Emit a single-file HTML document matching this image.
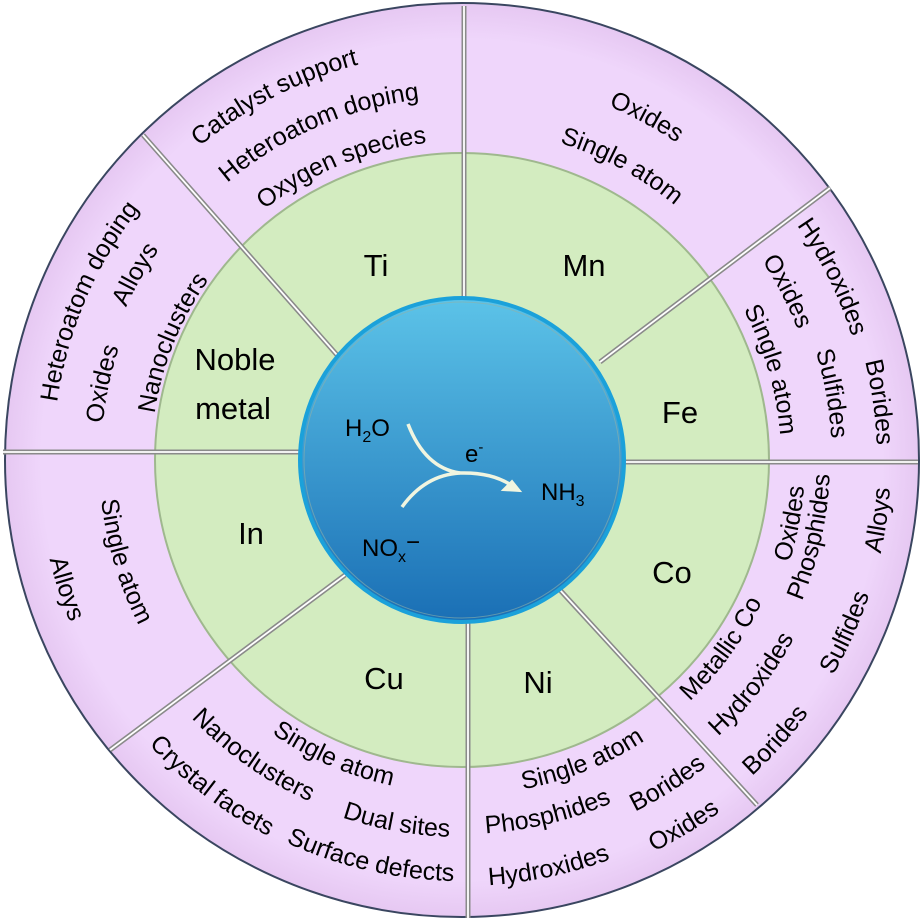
<!DOCTYPE html>
<html><head><meta charset="utf-8">
<style>
html,body{margin:0;padding:0;background:#fff;width:920px;height:921px;overflow:hidden}
svg{display:block}
.l{font-family:"Liberation Sans",sans-serif;font-size:25px;fill:#000}
.m{font-family:"Liberation Sans",sans-serif;font-size:31px;fill:#000;text-anchor:middle}
.c{font-family:"Liberation Sans",sans-serif;font-size:24px;fill:#000}
</style></head><body>
<svg width="920" height="921" viewBox="0 0 920 921" xmlns="http://www.w3.org/2000/svg">
<defs>
<linearGradient id="bg" x1="0" y1="0" x2="0" y2="1">
<stop offset="0" stop-color="#5cc3e8"/><stop offset="1" stop-color="#1a6fb5"/>
</linearGradient>
<radialGradient id="pg" cx="0.5" cy="0.5" r="0.5">
<stop offset="0.92" stop-color="#efd6fb"/><stop offset="1" stop-color="#e6c8f2"/>
</radialGradient>
<path id="p1"/><path id="p2"/><path id="p3"/><path id="p4"/><path id="p5"/><path id="p6"/><path id="p7"/><path id="p8"/><path id="p9"/><path id="p10"/>
<path id="p11"/><path id="p12"/><path id="p13"/><path id="p14"/><path id="p15"/><path id="p16"/><path id="p17"/><path id="p18"/><path id="p19"/><path id="p20"/>
<path id="p21"/><path id="p22"/><path id="p23"/><path id="p24"/><path id="p25"/><path id="p26"/><path id="p27"/><path id="p28"/><path id="p29"/><path id="p30"/>
<path id="p31"/>
</defs>
<circle cx="462" cy="460" r="457" fill="url(#pg)" stroke="#3a4660" stroke-width="2"/>
<circle cx="462" cy="460" r="307" fill="#d3ecc0" stroke="#9fb88e" stroke-width="2"/>
<g stroke="#8a8a8a" stroke-width="5" stroke-linecap="butt">
<line x1="464" y1="6" x2="464" y2="300"/>
<line x1="3" y1="452" x2="300" y2="452"/>
<line x1="622" y1="462" x2="918" y2="462"/>
<line x1="468" y1="620" x2="468" y2="918"/>
<line x1="143" y1="135" x2="337" y2="355"/>
<line x1="830" y1="188" x2="600" y2="362"/>
<line x1="560" y1="590" x2="757" y2="805"/>
<line x1="110" y1="750" x2="345" y2="575"/>
</g>
<g stroke="#ffffff" stroke-width="1.8">
<line x1="464" y1="6" x2="464" y2="300"/>
<line x1="3" y1="452" x2="300" y2="452"/>
<line x1="622" y1="462" x2="918" y2="462"/>
<line x1="468" y1="620" x2="468" y2="918"/>
<line x1="143" y1="135" x2="337" y2="355"/>
<line x1="830" y1="188" x2="600" y2="362"/>
<line x1="560" y1="590" x2="757" y2="805"/>
<line x1="110" y1="750" x2="345" y2="575"/>
</g>
<circle cx="462" cy="460" r="162" fill="url(#bg)" stroke="#1ba1da" stroke-width="4"/>
<circle cx="462" cy="460" r="158" fill="none" stroke="#8fb0a8" stroke-width="1" opacity="0.6"/>

<text class="m" x="376" y="276">Ti</text>
<text class="m" x="584" y="276">Mn</text>
<text class="m" x="235" y="370">Noble</text>
<text class="m" x="233" y="419">metal</text>
<text class="m" x="680" y="423">Fe</text>
<text class="m" x="251" y="544">In</text>
<text class="m" x="672" y="583">Co</text>
<text class="m" x="384" y="689">Cu</text>
<text class="m" x="538" y="693">Ni</text>

<path d="M408 424 Q425 468 460 473" fill="none" stroke="#f0f5e0" stroke-width="3.5"/>
<path d="M402 507 Q425 475 460 473 Q495 472 515 488" fill="none" stroke="#f0f5e0" stroke-width="3.5"/>
<path d="M520 491 L503 490 L512 481 Z" fill="#f0f5e0" stroke="#f0f5e0" stroke-width="2"/>
<text class="c" x="345" y="436">H<tspan font-size="16" dy="6">2</tspan><tspan dy="-6">O</tspan></text>
<text class="c" x="465" y="462">e<tspan font-size="15" dy="-10">-</tspan></text>
<text class="c" x="541" y="500">NH<tspan font-size="16" dy="6">3</tspan></text>
<text class="c" x="362" y="556">NO<tspan font-size="16" dy="6">x</tspan><tspan dy="-12">−</tspan></text>

<g class="l" text-anchor="middle">
<text><textPath href="#p1" startOffset="50%">Catalyst support</textPath></text>
<text><textPath href="#p2" startOffset="50%">Heteroatom doping</textPath></text>
<text><textPath href="#p3" startOffset="50%">Oxygen species</textPath></text>
<text><textPath href="#p4" startOffset="50%">Heteroatom doping</textPath></text>
<text><textPath href="#p5" startOffset="50%">Alloys</textPath></text>
<text><textPath href="#p6" startOffset="50%">Oxides</textPath></text>
<text><textPath href="#p7" startOffset="50%">Nanoclusters</textPath></text>
<text><textPath href="#p8" startOffset="50%">Oxides</textPath></text>
<text><textPath href="#p9" startOffset="50%">Single atom</textPath></text>
<text><textPath href="#p10" startOffset="50%">Hydroxides</textPath></text>
<text><textPath href="#p11" startOffset="50%">Borides</textPath></text>
<text><textPath href="#p12" startOffset="50%">Oxides</textPath></text>
<text><textPath href="#p13" startOffset="50%">Sulfides</textPath></text>
<text><textPath href="#p14" startOffset="50%">Single atom</textPath></text>
<text><textPath href="#p15" startOffset="50%">Oxides</textPath></text>
<text><textPath href="#p16" startOffset="50%">Phosphides</textPath></text>
<text><textPath href="#p17" startOffset="50%">Alloys</textPath></text>
<text><textPath href="#p18" startOffset="50%">Metallic Co</textPath></text>
<text><textPath href="#p19" startOffset="50%">Hydroxides</textPath></text>
<text><textPath href="#p20" startOffset="50%">Sulfides</textPath></text>
<text><textPath href="#p21" startOffset="50%">Borides</textPath></text>
<text><textPath href="#p22" startOffset="50%">Single atom</textPath></text>
<text><textPath href="#p23" startOffset="50%">Borides</textPath></text>
<text><textPath href="#p24" startOffset="50%">Phosphides</textPath></text>
<text><textPath href="#p25" startOffset="50%">Oxides</textPath></text>
<text><textPath href="#p26" startOffset="50%">Hydroxides</textPath></text>
<text><textPath href="#p27" startOffset="50%">Single atom</textPath></text>
<text><textPath href="#p28" startOffset="50%">Nanoclusters</textPath></text>
<text><textPath href="#p29" startOffset="50%">Dual sites</textPath></text>
<text><textPath href="#p30" startOffset="50%">Crystal facets</textPath></text>
<text><textPath href="#p31" startOffset="50%">Surface defects</textPath></text>
</g>
<g class="l" text-anchor="middle">
<text><textPath href="#q1" startOffset="50%">Single atom</textPath></text>
<text><textPath href="#q2" startOffset="50%">Alloys</textPath></text>
</g>
<path id="q1" fill="none"/><path id="q2" fill="none"/>
</svg>
<script>
var P=[
["p1",-27.3,418,1],["p2",-23.5,372,1],["p3",-22.3,328,1],
["p4",-67,418,1],["p5",-60.4,378,1],["p6",-78,370,1],["p7",-68,320,1],
["p8",28.3,392,1],["p9",28.5,341,1],
["p10",63.7,418,1],["p11",82.1,424,1],["p12",62.6,369,1],["p13",79.8,379,1],["p14",73.7,328,1],
["p15",100.9,334,0],["p16",102.4,359,0],["p17",98.2,420,0],["p18",126,323,0],["p19",127.7,368,0],["p20",114.2,420,0],["p21",131.8,420,0],
["p22",158.2,326,0],["p23",147.6,383,0],["p24",166.4,365,0],["p25",148.8,427,0],["p26",168,417,0],
["p27",203.5,324,0],["p28",215.2,365,0],["p29",190.2,368,0],["p30",217.5,414,0],["p31",192.9,412,0],
["q1",253.3,354,0],["q2",252,415,0]];
function pt(a,r){a=a*Math.PI/180;return (462+r*Math.sin(a)).toFixed(1)+" "+(460-r*Math.cos(a)).toFixed(1);}
P.forEach(function(e){var a=e[1],r=e[2],d;
 if(e[3]){var rb=r-9;d="M"+pt(a-80,rb)+" A"+rb+" "+rb+" 0 0 1 "+pt(a+80,rb);}
 else{var rb=r+9;d="M"+pt(a+80,rb)+" A"+rb+" "+rb+" 0 0 0 "+pt(a-80,rb);}
 document.getElementById(e[0]).setAttribute("d",d);});
</script>
</body></html>
